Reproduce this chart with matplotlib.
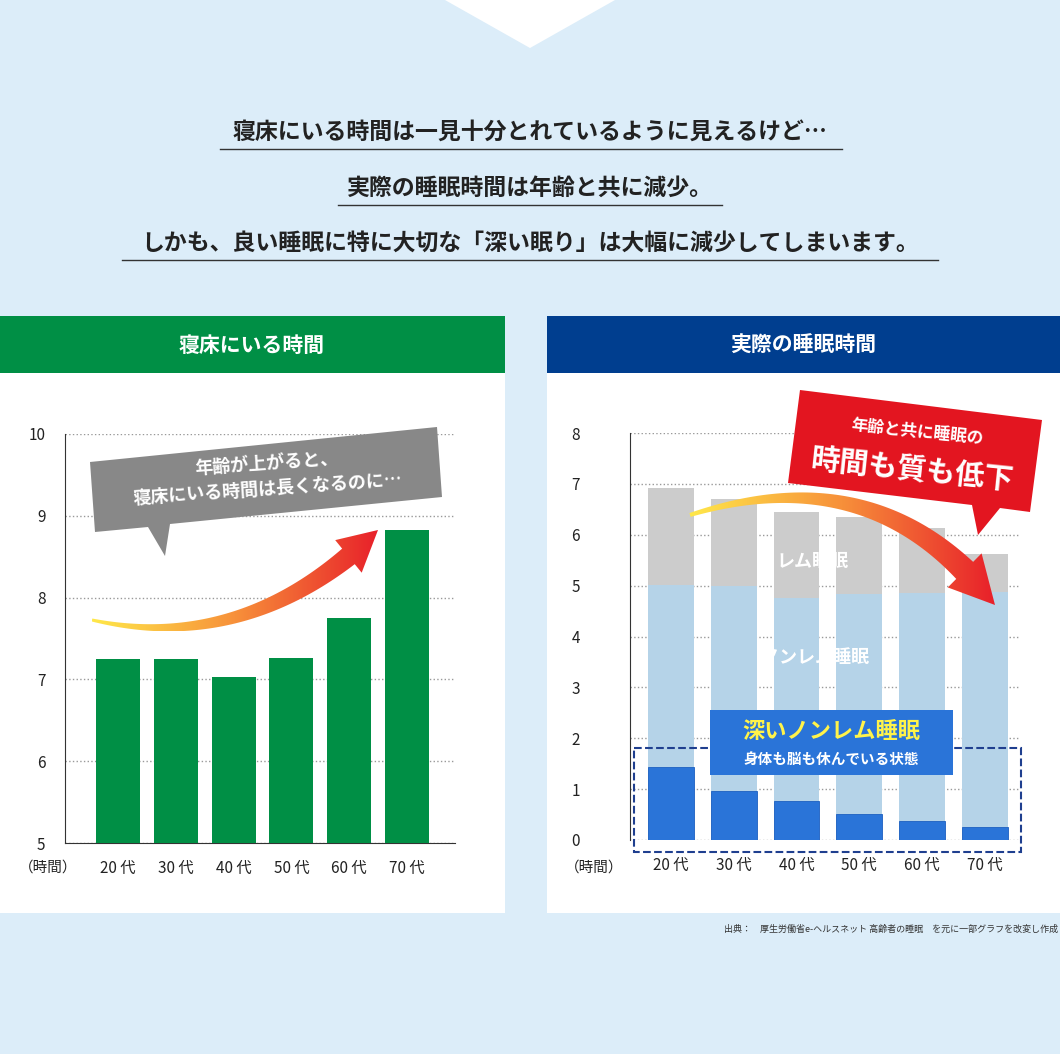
import numpy as np
import matplotlib
matplotlib.use("Agg")
import matplotlib.pyplot as plt
from matplotlib.patches import Polygon, Rectangle

plt.rcParams['font.family'] = 'Noto Sans CJK JP'

ages = ["20 代", "30 代", "40 代", "50 代", "60 代", "70 代"]
bed_hours = [7.25, 7.25, 7.03, 7.26, 7.75, 8.83]
sleep_total = [6.92, 6.70, 6.45, 6.35, 6.13, 5.62]
nonrem = [5.01, 4.99, 4.75, 4.83, 4.85, 4.87]
deep = [1.43, 0.96, 0.77, 0.51, 0.37, 0.26]
left_ticks = [5, 6, 7, 8, 9, 10]
right_ticks = [0, 1, 2, 3, 4, 5, 6, 7, 8]

W, H = 1060, 1054
fig = plt.figure(figsize=(W/100, H/100), dpi=100)
fig.patch.set_facecolor('#dcedf9')

def mk_ov(z):
    a = fig.add_axes([0, 0, 1, 1])
    a.set_xlim(0, W); a.set_ylim(H, 0); a.axis('off')
    a.set_zorder(z); a.patch.set_alpha(0)
    return a

bg = mk_ov(0)
ov = mk_ov(10)

def fa(x0, y0, x1, y1):
    return [x0/W, 1-y1/H, (x1-x0)/W, (y1-y0)/H]

bg.add_patch(Polygon([[445, 0], [615, 0], [530, 48]], color='white', lw=0))
lines = [("寝床にいる時間は一見十分とれているように見えるけど…", 132, 220, 842),
         ("実際の睡眠時間は年齢と共に減少。", 188, 338, 722),
         ("しかも、良い睡眠に特に大切な「深い眠り」は大幅に減少してしまいます。", 243, 122, 938)]
for t, y, x0, x1 in lines:
    bg.text(530, y, t, ha='center', va='center', fontsize=16.5, fontweight='bold', color='#222')
    bg.plot([x0, x1], [y+17, y+17], color='#333', lw=1)

bg.add_patch(Rectangle((0, 373), 505, 540, color='white', lw=0))
bg.add_patch(Rectangle((0, 316), 505, 57, color='#008f45', lw=0))
bg.text(252, 345, "寝床にいる時間", ha='center', va='center', color='white', fontsize=15, fontweight='bold')
bg.add_patch(Rectangle((547, 373), 513, 540, color='white', lw=0))
bg.add_patch(Rectangle((547, 316), 513, 57, color='#003e8f', lw=0))
bg.text(803, 345, "実際の睡眠時間", ha='center', va='center', color='white', fontsize=15, fontweight='bold')

x = np.arange(len(ages))
a1 = fig.add_axes(fa(65, 434, 455, 843)); a1.set_zorder(5)
a1.set_facecolor('none')
a1.bar(x, [v-5 for v in bed_hours], bottom=5, width=0.76, color='#008f45', zorder=3)
a1.set_ylim(5, 10); a1.set_xlim(-0.917, 5.83)
a1.set_yticks(left_ticks)
a1.yaxis.grid(True, linestyle=':', color='#999', lw=1)
a1.set_xticks(x); a1.set_xticklabels(ages)
for s in ['top', 'right']: a1.spines[s].set_visible(False)
a1.spines['left'].set_color('#333'); a1.spines['bottom'].set_color('#333')
a1.tick_params(axis='both', length=0, labelsize=11, colors='#222', pad=12)
a1.tick_params(axis='y', pad=14)
bg.text(48, 868, "（時間）", ha='center', va='center', fontsize=10.5, color='#222')

a2 = fig.add_axes(fa(630, 433, 1020, 840)); a2.set_zorder(5)
a2.set_facecolor('none')
a2.bar(x, sleep_total, width=0.73, color='#cccccc', zorder=2)
a2.bar(x, nonrem, width=0.73, color='#b5d3e8', zorder=2)
a2.bar(x, deep, width=0.73, color='#2a74d8', edgecolor='#1c5fc0', lw=0.6, zorder=3)
a2.set_ylim(0, 8); a2.set_xlim(-0.65, 5.56)
a2.set_yticks(right_ticks)
a2.yaxis.grid(True, linestyle=':', color='#999', lw=1)
a2.set_xticks(x); a2.set_xticklabels(ages)
for s in ['top', 'right', 'bottom']: a2.spines[s].set_visible(False)
a2.spines['left'].set_color('#333')
a2.tick_params(axis='both', length=0, labelsize=11, colors='#222', pad=12)
a2.tick_params(axis='y', pad=36)
bg.text(594, 868, "（時間）", ha='center', va='center', fontsize=10.5, color='#222')

ov.text(812, 562, "レム睡眠", ha='center', va='center', color='white', fontsize=13, fontweight='bold', zorder=5)
ov.text(815, 657, "ノンレム睡眠", ha='center', va='center', color='white', fontsize=13, fontweight='bold', zorder=5)
ov.add_patch(Rectangle((634, 748), 387, 104, fill=False, ls='--', ec='#1f3f8f', lw=1.5, zorder=5))
ov.add_patch(Rectangle((710, 710), 243, 65, color='#2a74d8', lw=0, zorder=6))
ov.text(831, 732, "深いノンレム睡眠", ha='center', va='center', color='#fff34a', fontsize=16, fontweight='bold', zorder=7)
ov.text(831, 759, "身体も脳も休んでいる状態", ha='center', va='center', color='white', fontsize=10.5, fontweight='bold', zorder=7)
bg.text(1058, 929, "出典：　厚生労働省e-ヘルスネット 高齢者の睡眠　を元に一部グラフを改変し作成",
        ha='right', va='center', fontsize=6.5, color='#333')

def grad_arrow(p0, pc, p1, w0, w1, hw, hl, zorder):
    t = np.linspace(0, 1, 80)
    P0, PC, P1 = map(np.array, (p0, pc, p1))
    pts = ((1-t)**2)[:, None]*P0 + (2*(1-t)*t)[:, None]*PC + (t**2)[:, None]*P1
    d = np.gradient(pts, axis=0)
    d /= np.linalg.norm(d, axis=1)[:, None]
    nrm = np.stack([-d[:, 1], d[:, 0]], axis=1)
    L = np.cumsum(np.r_[0, np.linalg.norm(np.diff(pts, axis=0), axis=1)])
    keep = L <= L[-1]-hl
    bp = pts[keep]; bn = nrm[keep]
    ww = np.linspace(w0, w1, len(bp))[:, None]/2
    up = bp + bn*ww; dn = bp - bn*ww
    base = bp[-1]; bnn = bn[-1]
    tip = pts[-1]
    poly = np.vstack([up, [base+bnn*hw/2], [tip], [base-bnn*hw/2], dn[::-1]])
    xs, ys = poly[:, 0], poly[:, 1]
    grad = np.linspace(0, 1, 256)[None, :]
    cmap = matplotlib.colors.LinearSegmentedColormap.from_list('g', ['#ffe84a', '#f7903a', '#e8202a'])
    im = ov.imshow(grad, cmap=cmap, extent=[xs.min(), xs.max(), ys.max(), ys.min()],
                   aspect='auto', zorder=zorder)
    pg = Polygon(poly, closed=True, fc='none', ec='none', transform=ov.transData)
    ov.add_patch(pg)
    im.set_clip_path(pg)
    ov.set_xlim(0, W); ov.set_ylim(H, 0)

ov.add_patch(Polygon([[90, 462], [437, 427], [442, 497], [170, 524], [165, 556], [148, 527], [95, 532]],
                     color='#888888', lw=0, zorder=4))
ov.text(267, 463, "年齢が上がると、", ha='center', va='center', color='white', fontsize=13,
        fontweight='bold', rotation=4, zorder=5)
ov.text(268, 489, "寝床にいる時間は長くなるのに…", ha='center', va='center', color='white', fontsize=13,
        fontweight='bold', rotation=4, zorder=5)
grad_arrow((92, 620), (250, 655), (378, 530), 3, 20, 42, 38, 6)

grad_arrow((690, 515), (880, 455), (995, 605), 4, 24, 48, 42, 8)
ov.add_patch(Polygon([[800, 390], [1042, 420], [1030, 512], [1000, 508], [978, 535], [972, 505],
                      [788, 483]], color='#e31520', lw=0, zorder=9))
ov.text(917, 433, "年齢と共に睡眠の", ha='center', va='center', color='white', fontsize=12,
        fontweight='bold', rotation=-6, zorder=10)
ov.text(912, 470, "時間も質も低下", ha='center', va='center', color='white', fontsize=21,
        fontweight='bold', rotation=-6, zorder=10)

fig.savefig("out.png", dpi=100, facecolor=fig.get_facecolor())
